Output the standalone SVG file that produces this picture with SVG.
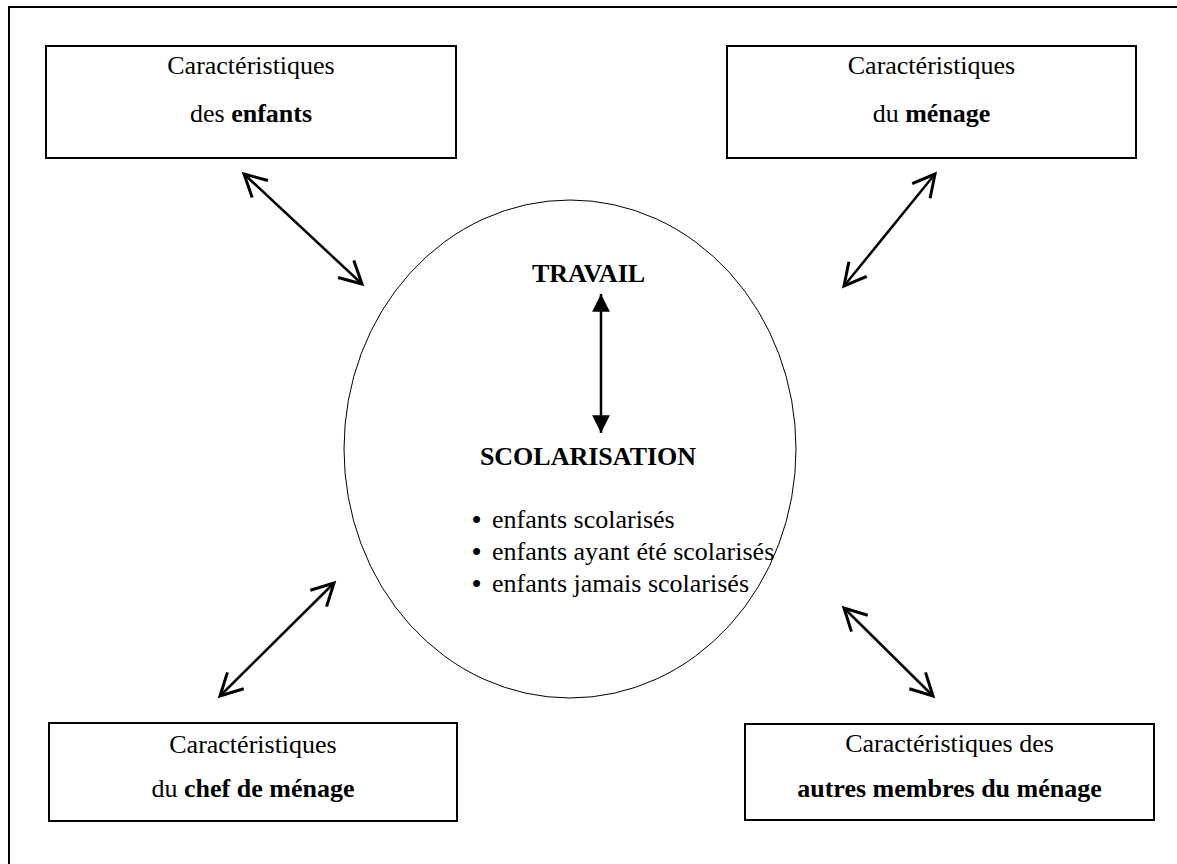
<svg xmlns="http://www.w3.org/2000/svg" width="1177" height="864" viewBox="0 0 1177 864">
<style>
text{font-family:"Liberation Serif","Times New Roman",serif;font-size:26px;fill:#000}
.c{text-anchor:middle}
.b{font-weight:bold}
.box{fill:#fff;stroke:#000;stroke-width:2}
.frame{fill:none;stroke:#000;stroke-width:2}
.conn{stroke:#000;stroke-width:2.5;fill:none}
</style>
<defs>
<marker id="open" markerUnits="userSpaceOnUse" markerWidth="30" markerHeight="30" viewBox="-22 -12 26 24" refX="0" refY="0" orient="auto-start-reverse">
<path d="M-19,-10 L0,0 L-19,10" fill="none" stroke="#000" stroke-width="2.6" stroke-linejoin="miter"/>
</marker>
<marker id="solid" markerUnits="userSpaceOnUse" markerWidth="20" markerHeight="20" viewBox="-17 -9 18 18" refX="0" refY="0" orient="auto-start-reverse">
<path d="M-16,-8 L0,0 L-16,8 Z" fill="#000"/>
</marker>
</defs>
<rect width="1177" height="864" fill="#fff"/>
<path class="frame" d="M9,864 L9,7 L1177,7"/>
<g id="centre">
<ellipse cx="570" cy="449" rx="226" ry="249" fill="#fff" stroke="#000" stroke-width="1"/>
<text class="c b" x="588.5" y="282">TRAVAIL</text>
<text class="c b" x="588" y="465">SCOLARISATION</text>
<text x="472" y="528"><tspan class="b">•</tspan><tspan x="492">enfants scolarisés</tspan></text>
<text x="472" y="560"><tspan class="b">•</tspan><tspan x="492">enfants ayant été scolarisés</tspan></text>
<text x="472" y="592"><tspan class="b">•</tspan><tspan x="492">enfants jamais scolarisés</tspan></text>
</g>
<g id="enfants">
<rect class="box" x="46" y="46" width="410" height="112"/>
<text class="c" x="251" y="74">Caractéristiques</text>
<text class="c" x="251" y="122">des <tspan class="b">enfants</tspan></text>
</g>
<g id="menage">
<rect class="box" x="727" y="46" width="409" height="112"/>
<text class="c" x="931.5" y="74">Caractéristiques</text>
<text class="c" x="931.5" y="122">du <tspan class="b">ménage</tspan></text>
</g>
<g id="chef">
<rect class="box" x="49" y="723" width="408" height="98"/>
<text class="c" x="253" y="753">Caractéristiques</text>
<text class="c" x="253" y="797">du <tspan class="b">chef de ménage</tspan></text>
</g>
<g id="autres">
<rect class="box" x="745" y="724" width="409" height="96"/>
<text class="c" x="949.5" y="752">Caractéristiques des</text>
<text class="c b" x="949.5" y="797">autres membres du ménage</text>
</g>
<g id="connectors">
<line class="conn" x1="601" y1="294" x2="601" y2="433" marker-start="url(#solid)" marker-end="url(#solid)"/>
<line class="conn" x1="244" y1="174" x2="362" y2="284" marker-start="url(#open)" marker-end="url(#open)"/>
<line class="conn" x1="935" y1="174" x2="844" y2="286" marker-start="url(#open)" marker-end="url(#open)"/>
<line class="conn" x1="334" y1="583" x2="220" y2="696" marker-start="url(#open)" marker-end="url(#open)"/>
<line class="conn" x1="844" y1="608" x2="933" y2="696" marker-start="url(#open)" marker-end="url(#open)"/>
</g>
</svg>
